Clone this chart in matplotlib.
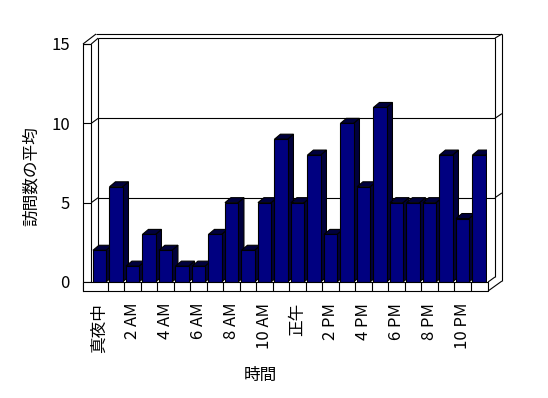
import numpy as np
import matplotlib
matplotlib.use('Agg')
import matplotlib.pyplot as plt
from matplotlib.patches import Polygon, Rectangle

plt.rcParams['font.family'] = ['Noto Sans CJK JP', 'DejaVu Sans']

# data
hours = np.arange(24)
visits = [2, 6, 1, 3, 2, 1, 1, 3, 5, 2, 5, 9, 5, 8, 3, 10, 6, 11, 5, 5, 5, 8, 4, 8]
tick_pos = np.arange(0, 24, 2)
tick_labels = ['真夜中', '2 AM', '4 AM', '6 AM', '8 AM', '10 AM',
               '正午', '2 PM', '4 PM', '6 PM', '8 PM', '10 PM']
y_ticks = [0, 5, 10, 15]

W, H = 548, 398
fig = plt.figure(figsize=(W / 100, H / 100), dpi=100)
left, right, top, bottom = 91.25, 487.25, 44, 282
ax = fig.add_axes([left / W, 1 - bottom / H, (right - left) / W, (bottom - top) / H])
ax.set_xlim(-0.5, 23.5)
ax.set_ylim(0, 15)
ax.patch.set_alpha(0)

lw = 0.8
k = 'black'
# depth offsets (data units)
dx, dy = 0.36, 0.315      # bars
wx, wy = 0.42, 0.315      # back wall
fx = -1.0                 # front axis x
fb = -0.567               # floor front bottom
fr = 23.55                # floor right
ox, oy = 24.39, 15.63     # outer wall edges
ix, iy = 23.97, 15.37     # inner wall edges
bl = -0.5 + wx - 0.0      # back wall left


def line(xs, ys, z=1):
    ax.plot(xs, ys, color=k, lw=lw, clip_on=False, zorder=z, solid_capstyle='butt')


# walls
line([-0.5, -0.5], [0, 15])
line([fx, -0.5], [15, 15])
line([fx, -0.21], [15, oy])
line([-0.5, bl], [15, iy])
line([-0.21, ox], [oy, oy])
line([ox, ox], [oy, 0.06])
line([bl, ix], [iy, iy])
line([bl, bl], [wy, iy])
line([ix, ix], [wy, iy])
line([ix, ox], [iy, oy])
for v in y_ticks[1:-1]:
    line([-0.5, bl], [v, v + wy])
    line([bl, ix], [v + wy, v + wy])
    line([ix, ox], [v + wy, v + wy + 0.3])

# floor
ax.add_patch(Rectangle((fx, fb), fr - fx, -fb, facecolor='white', edgecolor=k,
                       lw=lw, clip_on=False, zorder=60))
for b in np.arange(0.5, 23.5, 1):
    line([b, b], [fb, 0], z=61)
line([fr, ox], [fb, 0.06], z=61)
line([fr, ix], [0, wy], z=61)

# bars with side and top faces
bars = ax.bar(hours, visits, width=0.79, color='#000080', edgecolor=k, linewidth=lw)
for i, b in enumerate(bars):
    x0, x1, v = b.get_x(), b.get_x() + b.get_width(), b.get_height()
    side = Polygon([(x1, 0), (x1 + dx, dy), (x1 + dx, v + dy), (x1, v)],
                   facecolor='#00003c', edgecolor=k, lw=lw, zorder=3 + 2 * i)
    topf = Polygon([(x0, v), (x0 + dx, v + dy), (x1 + dx, v + dy), (x1, v)],
                   facecolor='#00003c', edgecolor=k, lw=lw, zorder=3 + 2 * i)
    ax.add_patch(side)
    ax.add_patch(topf)
    b.set_zorder(4 + 2 * i)

# axes
for s in ['top', 'right', 'bottom']:
    ax.spines[s].set_visible(False)
ax.spines['left'].set_position(('data', fx))
ax.spines['left'].set_bounds(fb, 15)
ax.spines['left'].set_linewidth(lw)
ax.set_yticks(y_ticks)
ax.tick_params(axis='y', direction='in', length=5.9, width=lw, pad=9.4, labelsize=12)
ax.set_xticks(tick_pos, tick_labels, rotation=90)
ax.tick_params(axis='x', length=0, pad=15, labelsize=12)

ax.set_xlabel('時間', fontsize=12)
ax.xaxis.set_label_coords((260 - left) / (right - left), (bottom - 367) / (bottom - top))
ax.set_ylabel('訪問数の平均', fontsize=12)
ax.yaxis.set_label_coords((40 - left) / (right - left), (bottom - 176) / (bottom - top))

fig.savefig('out.png', dpi=100)
